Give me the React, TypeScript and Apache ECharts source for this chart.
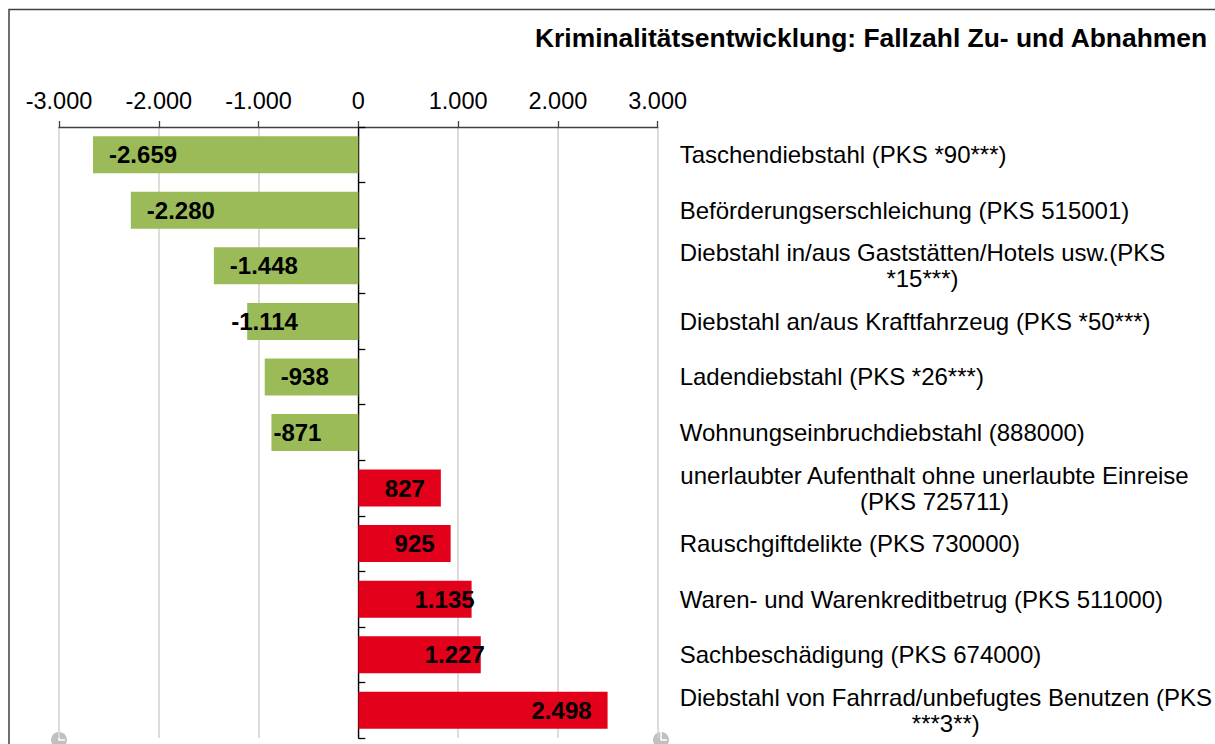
import React, { useEffect, useRef } from "react";
import * as echarts from "echarts";

const chartTitle = "Kriminalitätsentwicklung: Fallzahl Zu- und Abnahmen";

const categories: string[] = [
  "Taschendiebstahl (PKS *90***)",
  "Beförderungserschleichung (PKS 515001)",
  "Diebstahl in/aus Gaststätten/Hotels usw.(PKS\n*15***)",
  "Diebstahl an/aus Kraftfahrzeug (PKS *50***)",
  "Ladendiebstahl (PKS *26***)",
  "Wohnungseinbruchdiebstahl (888000)",
  "unerlaubter Aufenthalt ohne unerlaubte Einreise\n(PKS 725711)",
  "Rauschgiftdelikte (PKS 730000)",
  "Waren- und Warenkreditbetrug (PKS 511000)",
  "Sachbeschädigung (PKS 674000)",
  "Diebstahl von Fahrrad/unbefugtes Benutzen (PKS\n***3**)",
];

const values: number[] = [-2659, -2280, -1448, -1114, -938, -871, 827, 925, 1135, 1227, 2498];

const axisMin = -3000;
const axisMax = 3000;
const axisStep = 1000;

const GREEN = "#9BBB59";
const RED = "#E2001A";
const FONT = "'Liberation Sans', Arial, sans-serif";

function de(n: number): string {
  const s = Math.abs(Math.round(n))
    .toString()
    .replace(/\B(?=(\d{3})+(?!\d))/g, ".");
  return (n < 0 ? "-" : "") + s;
}

// manual label nudges (as in the original chart)
const labelNudge: Record<number, number> = { 3: -32, 5: -14, 8: 19, 9: 20 };

export default function App() {
  const ref = useRef<HTMLDivElement>(null);

  useEffect(() => {
    if (!ref.current) return;
    const chart = echarts.init(ref.current, undefined, { renderer: "svg" });

    const gridLeft = 59;
    const gridRight = 661;

    const option: any = {
      animation: false,
      backgroundColor: "#ffffff",
      title: {
        text: chartTitle,
        right: 2,
        top: 20,
        textStyle: { fontFamily: FONT, fontSize: 26.4, fontWeight: "bold", color: "#000" },
      },
      grid: {
        left: gridLeft,
        right: 1215 - gridRight,
        top: 127,
        bottom: 6,
        containLabel: false,
      },
      xAxis: {
        type: "value",
        position: "top",
        min: axisMin,
        max: axisMax,
        interval: axisStep,
        axisLine: { show: true, lineStyle: { color: "#404040", width: 1.3 } },
        axisTick: { show: true, length: 6, lineStyle: { color: "#404040", width: 1.3 } },
        axisLabel: {
          margin: 14,
          fontFamily: FONT,
          fontSize: 23.5,
          color: "#000",
          formatter: (v: number) => de(v),
        },
        splitLine: { show: true, lineStyle: { color: "#d0d0d0", width: 1.5 } },
      },
      yAxis: [
        {
          type: "category",
          inverse: true,
          data: categories,
          axisLine: { show: true, onZero: true, lineStyle: { color: "#000", width: 1.3 } },
          axisTick: { show: true, inside: true, length: 7, lineStyle: { color: "#000", width: 1.3 } },
          axisLabel: { show: false },
          splitLine: { show: false },
        },
        {
          type: "category",
          inverse: true,
          position: "right",
          data: categories,
          axisLine: { show: false, onZero: false },
          axisTick: { show: false },
          axisLabel: {
            show: true,
            margin: 22,
            formatter: (v: string) =>
              v
                .split("\n")
                .map((l) => `{c|${l}}`)
                .join("\n"),
            rich: {
              c: {
                align: "center",
                fontFamily: FONT,
                fontSize: 24,
                lineHeight: 26,
                color: "#000",
              },
            },
          },
        },
      ],
      series: [
        {
          type: "bar",
          yAxisIndex: 0,
          barWidth: 37,
          data: values.map((v, i) => ({
            value: v,
            itemStyle: { color: v < 0 ? GREEN : RED },
            label: {
              position: v < 0 ? "insideLeft" : "insideRight",
              offset: [labelNudge[i] || 0, 0],
            },
          })),
          label: {
            show: true,
            distance: 16,
            fontFamily: FONT,
            fontSize: 24,
            fontWeight: "bold",
            color: "#000",
            formatter: (p: any) => de(p.value),
          },
        },
      ],
      graphic: [
        {
          type: "rect",
          silent: true,
          shape: { x: 9, y: 9.5, width: 1400, height: 1000 },
          style: { fill: "none", stroke: "#404040", lineWidth: 1.5 },
          z: 100,
        },
        {
          type: "group",
          z: 100,
          children: [
            { type: "circle", shape: { cx: 59, cy: 740, r: 8 }, style: { fill: "#c0c0c0" } },
            { type: "polyline", shape: { points: [[59, 732], [59, 740], [65, 740]] }, style: { stroke: "#ffffff", lineWidth: 1.5, fill: "none" } },
            { type: "circle", shape: { cx: 661, cy: 740, r: 8 }, style: { fill: "#c0c0c0" } },
            { type: "polyline", shape: { points: [[661, 732], [661, 740], [667, 740]] }, style: { stroke: "#ffffff", lineWidth: 1.5, fill: "none" } },
          ],
        },
      ],
    };

    chart.setOption(option);
    return () => chart.dispose();
  }, []);

  return (
    <div
      ref={ref}
      style={{ position: "absolute", left: 0, top: 0, width: 1215, height: 744, background: "#fff" }}
    />
  );
}
